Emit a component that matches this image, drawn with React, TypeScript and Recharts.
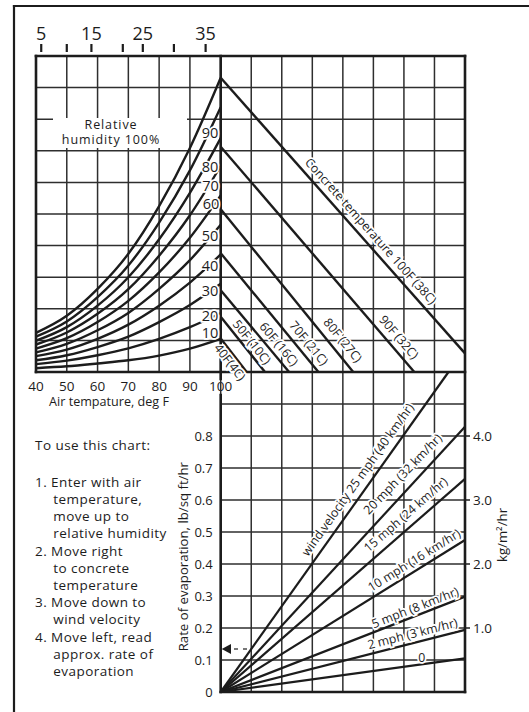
import React from 'react';
import { LineChart, Line, XAxis, YAxis, CartesianGrid } from 'recharts';

// ---- top-left panel: relative humidity curves (y in grid units, 0..10)
const airTemps = [40, 50, 60, 70, 80, 90, 100];
const humidityLevels = [100, 90, 80, 70, 60, 50, 40, 30, 20, 10];
const humidityCurves = [
  [1.24, 1.78, 2.63, 3.74, 5.25, 7.09, 9.31],
  [1.12, 1.6, 2.37, 3.37, 4.73, 6.38, 8.38],
  [0.99, 1.42, 2.1, 3.0, 4.2, 5.67, 7.4],
  [0.87, 1.25, 1.84, 2.62, 3.68, 4.96, 6.52],
  [0.74, 1.07, 1.58, 2.25, 3.15, 4.25, 5.59],
  [0.62, 0.89, 1.32, 1.87, 2.63, 3.54, 4.66],
  [0.5, 0.71, 1.05, 1.5, 2.1, 2.83, 3.72],
  [0.37, 0.53, 0.79, 1.12, 1.58, 2.12, 2.79],
  [0.25, 0.36, 0.53, 0.75, 1.05, 1.42, 1.86],
  [0.12, 0.18, 0.27, 0.37, 0.52, 0.74, 1.05],
];
const fTicks = [40, 50, 60, 70, 80, 90, 100];
const cTickPos = [41.7, 50, 58, 68.2, 74.7, 84.8, 95.1];
const cTickLabels = ['5', '', '15', '', '25', '', '35'];
const unitTicks = [0, 1, 2, 3, 4, 5, 6, 7, 8, 9, 10];

// ---- top-right panel: concrete temperature lines
const concreteTemps = ['40F', '50F', '60F', '70F', '80F', '90F', '100F'];
const concreteStart = [1.06, 1.75, 2.59, 3.76, 5.15, 7.13, 9.31];
const concreteEndX = [0.85, 1.45, 2.24, 3.2, 4.34, 6.34, 8];
const concreteEndY = [0, 0, 0, 0, 0, 0, 0.59];
const colTicks = [0, 1, 2, 3, 4, 5, 6, 7, 8];

// ---- bottom-right panel: wind velocity lines (rate, lb/sq ft/hr)
const windSpeeds = ['0', '2 mph', '5 mph', '10 mph', '15 mph', '20 mph', '25 mph'];
const windEndX = [8, 8, 8, 8, 8, 8, 7.46];
const windEndRate = [0.105, 0.194, 0.298, 0.475, 0.666, 0.829, 1.0];
const rateTicks = [0, 0.1, 0.2, 0.3, 0.4, 0.5, 0.6, 0.7, 0.8, 0.9, 1.0];
const kgTicks = [1, 2, 3, 4];

const humidityTable = airTemps.map((t, i) => {
  const row: any = { t };
  humidityLevels.forEach((h, j) => {
    row['rh' + h] = humidityCurves[j][i];
  });
  return row;
});

const INK = '#1c1c1c';
const GRID = '#2e2e2e';
const FONT = "'Open Sans', 'Noto Sans', sans-serif";

const humidityLabels = [
  { t: '90', x: 210, y: 132 },
  { t: '80', x: 210, y: 166 },
  { t: '70', x: 210.5, y: 185.5 },
  { t: '60', x: 211, y: 203.5 },
  { t: '50', x: 210, y: 235 },
  { t: '40', x: 210, y: 265 },
  { t: '30', x: 210, y: 290 },
  { t: '20', x: 210, y: 315 },
  { t: '10', x: 210, y: 332.5 },
];

const lineLabels = [
  { t: 'Concrete temperature 100F (38C)', x: 371, y: 231, a: 48.4 },
  { t: '90F (32C)', x: 399, y: 337, a: 49.3 },
  { t: '80F (27C)', x: 343, y: 340, a: 50.8 },
  { t: '70F (21C)', x: 309, y: 343, a: 50.6 },
  { t: '60F (16C)', x: 279, y: 344, a: 50.1 },
  { t: '50F (10C)', x: 252, y: 342, a: 51.3 },
  { t: '40F(4C)', x: 230, y: 362, a: 52.2 },
  { t: 'wind velocity 25 mph (40 km/hr)', x: 357.5, y: 479.5, a: -54.6 },
  { t: '20 mph (32 km/hr)', x: 402.5, y: 474, a: -46 },
  { t: '15 mph (24 km/hr)', x: 405.5, y: 514.5, a: -41.1 },
  { t: '10 mph (16 km/hr)', x: 414, y: 560, a: -31.9 },
  { t: '5 mph (8 km/hr)', x: 415, y: 607.5, a: -21.3 },
  { t: '2 mph (3 km/hr)', x: 412.5, y: 633.5, a: -14.3 },
  { t: '0', x: 421.7, y: 657.5, a: 0 },
];

const instructions = [
  { t: 'To use this chart:', x: 35, y: 450 },
  { t: '1. Enter with air', x: 35, y: 486.7 },
  { t: 'temperature,', x: 53.3, y: 503.9 },
  { t: 'move up to', x: 53.3, y: 521.1 },
  { t: 'relative humidity', x: 53.3, y: 538.3 },
  { t: '2. Move right', x: 35, y: 555.5 },
  { t: 'to concrete', x: 53.3, y: 572.7 },
  { t: 'temperature', x: 53.3, y: 589.9 },
  { t: '3. Move down to', x: 35, y: 607.1 },
  { t: 'wind velocity', x: 53.3, y: 624.3 },
  { t: '4. Move left, read', x: 35, y: 641.5 },
  { t: 'approx. rate of', x: 53.3, y: 658.7 },
  { t: 'evaporation', x: 53.3, y: 675.9 },
];

const CelsiusTick = (props: any) => {
  const { x, payload } = props;
  const idx = cTickPos.indexOf(payload.value);
  const label = idx >= 0 ? cTickLabels[idx] : '';
  return (
    <g>
      <line x1={x} x2={x} y1={44} y2={52} stroke={INK} strokeWidth={2.2} />
      {label && (
        <text x={x} y={39.5} textAnchor="middle" fontSize={18} fill={INK}>
          {label}
        </text>
      )}
    </g>
  );
};

const layer: React.CSSProperties = { position: 'absolute', left: 0, top: 0 };
const halo = { stroke: '#fff', strokeWidth: 3.5, paintOrder: 'stroke' as const };

export default function App() {
  return (
    <div style={{ position: 'absolute', left: 0, top: 0, width: 529, height: 712, background: '#fff', fontFamily: FONT }}>
      {/* humidity panel */}
      <div style={layer}>
        <LineChart width={529} height={712} data={humidityTable} margin={{ top: 26, right: 308.3, bottom: 310, left: 36 }}>
          <CartesianGrid stroke={GRID} strokeWidth={1.5} />
          <XAxis dataKey="t" type="number" domain={[40, 100]} ticks={fTicks} interval={0} height={30}
            tickLine={false} axisLine={false} tickSize={0} tickMargin={9} tick={{ fontSize: 13.5, fill: INK }} />
          <XAxis xAxisId="c" orientation="top" dataKey="t" type="number" domain={[40, 100]} ticks={cTickPos}
            interval={0} height={30} tickLine={false} axisLine={false} tick={<CelsiusTick />} />
          <YAxis type="number" domain={[0, 10]} ticks={unitTicks} hide />
          {humidityLevels.map((h) => (
            <Line key={h} type="monotone" dataKey={'rh' + h} stroke={INK} strokeWidth={2.4} dot={false} isAnimationActive={false} />
          ))}
        </LineChart>
      </div>

      {/* concrete temperature panel */}
      <div style={layer}>
        <LineChart width={529} height={712} margin={{ top: 56, right: 64, bottom: 340, left: 220.7 }}>
          <CartesianGrid stroke={GRID} strokeWidth={1.5} />
          <XAxis dataKey="x" type="number" domain={[0, 8]} ticks={colTicks} hide />
          <YAxis type="number" domain={[0, 10]} ticks={unitTicks} hide />
          {concreteTemps.map((c, i) => (
            <Line key={c} data={[{ x: 0, y: concreteStart[i] }, { x: concreteEndX[i], y: concreteEndY[i] }]}
              dataKey="y" type="linear" stroke={INK} strokeWidth={2.4} dot={false} isAnimationActive={false} />
          ))}
        </LineChart>
      </div>

      {/* wind velocity panel */}
      <div style={layer}>
        <LineChart width={529} height={712} margin={{ top: 372, right: 24, bottom: 20, left: 190.7 }}>
          <CartesianGrid stroke={GRID} strokeWidth={1.5} />
          <XAxis dataKey="x" type="number" domain={[0, 8]} ticks={colTicks} hide />
          <YAxis type="number" domain={[0, 1]} ticks={rateTicks} interval={0} width={30}
            tickLine={false} axisLine={false} tickSize={0} tickMargin={8}
            tick={{ fontSize: 13, fill: INK }}
            tickFormatter={(v: number) => (v === 0 ? '0' : v > 0.85 ? '' : v.toFixed(1))} />
          <YAxis yAxisId="kg" orientation="right" type="number" domain={[0, 5]} ticks={kgTicks} interval={0} width={40}
            axisLine={false} tickSize={5} tickMargin={3} tickLine={{ stroke: INK, strokeWidth: 1.5 }}
            tick={{ fontSize: 13.5, fill: INK }} tickFormatter={(v: number) => v.toFixed(1)} />
          {windSpeeds.map((w, i) => (
            <Line key={w} data={[{ x: 0, y: 0 }, { x: windEndX[i], y: windEndRate[i] }]}
              dataKey="y" type="linear" stroke={INK} strokeWidth={2.2} dot={false} isAnimationActive={false} />
          ))}
          {/* invisible series so the kg/m²/hr axis gets a scale */}
          <Line yAxisId="kg" data={kgTicks.map((k) => ({ x: 0, y: k }))} dataKey="y" stroke="none"
            dot={false} activeDot={false} isAnimationActive={false} />
        </LineChart>
      </div>

      {/* frame, borders and labels */}
      <svg width={529} height={712} style={layer}>
        <g stroke={INK} strokeWidth={2.2}>
          <line x1={14} y1={4.9} x2={14} y2={712} />
          <line x1={12.9} y1={6} x2={529} y2={6} />
        </g>
        <rect x={53} y={118} width={134} height={30} fill="#fff" />
        <g stroke={INK} strokeWidth={2.6} strokeLinecap="square">
          <line x1={36} y1={56} x2={465} y2={56} />
          <line x1={36} y1={56} x2={36} y2={372} />
          <line x1={36} y1={372} x2={465} y2={372} />
          <line x1={220.7} y1={56} x2={220.7} y2={379} />
          <line x1={220.7} y1={395} x2={220.7} y2={692} />
          <line x1={465} y1={56} x2={465} y2={692} />
          <line x1={220.7} y1={692} x2={465} y2={692} />
        </g>
        <polygon points="221.7,649 231,644 231,654" fill={INK} />
        <g stroke={INK} strokeWidth={1.2}>
          <line x1={234} y1={649} x2={238} y2={649} />
          <line x1={243} y1={649} x2={247} y2={649} />
        </g>

        <g fill={INK} fontSize={12.5} letterSpacing={0.9} textAnchor="middle">
          <text x={111} y={128.5}>Relative</text>
          <text x={111} y={144}>humidity 100%</text>
        </g>

        <g fill={INK} fontSize={14.5} textAnchor="middle" dominantBaseline="central">
          {humidityLabels.map((l) => (
            <text key={l.t} x={l.x} y={l.y} {...halo}>{l.t}</text>
          ))}
        </g>

        <g fill={INK} fontSize={12.3} textAnchor="middle" dominantBaseline="central">
          {lineLabels.map((l) => (
            <text key={l.t} x={0} y={0} transform={`translate(${l.x},${l.y}) rotate(${l.a})`} {...halo}>{l.t}</text>
          ))}
        </g>

        <text x={109} y={406} fontSize={12.6} fill={INK} textAnchor="middle">Air tempature, deg F</text>

        <g fill={INK} fontSize={13.5} letterSpacing={0.45}>
          {instructions.map((l) => (
            <text key={l.t} x={l.x} y={l.y}>{l.t}</text>
          ))}
        </g>

        <text x={0} y={0} transform="translate(183.3,556.7) rotate(-90)" fontSize={13.2} fill={INK}
          textAnchor="middle" dominantBaseline="central">Rate of evaporation, lb/sq ft/hr</text>
        <text x={0} y={0} transform="translate(501.7,535) rotate(-90)" fontSize={13.2} fill={INK}
          textAnchor="middle" dominantBaseline="central">kg/m²/hr</text>
      </svg>
    </div>
  );
}
